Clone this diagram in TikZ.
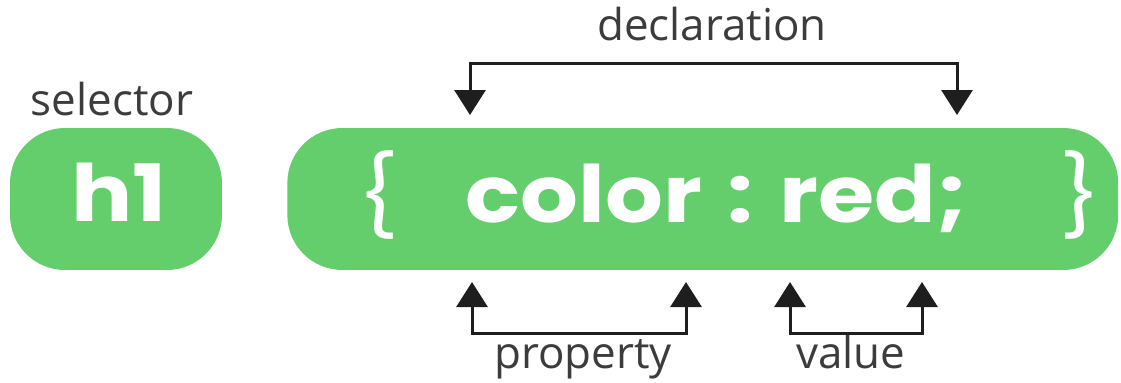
\documentclass[tikz,border=0pt]{standalone}
\usepackage{fontspec}
\setmainfont{Open Sans}
\newfontfamily\codefont{Poppins}[FakeStretch=1.15]
\usetikzlibrary{positioning,arrows.meta}
\definecolor{cssgreen}{HTML}{64CD6C}
\definecolor{labelgray}{HTML}{3C3C3C}
\definecolor{tipblack}{HTML}{1E1E1E}

\begin{document}
\begin{tikzpicture}[x=0.02cm, y=-0.02cm,
    pill/.style={fill=cssgreen, rounded corners=1.1cm, inner sep=0pt, minimum height=2.84cm},
    code/.style={text=white, font=\codefont\bfseries\fontsize{45}{50}\selectfont, inner sep=0pt, anchor=base},
    brace/.style={code, font=\codefont\mdseries\fontsize{45}{50}\selectfont},
    lbl/.style={text=labelgray, font=\fontsize{25}{30}\selectfont, inner sep=0pt, anchor=base},
    tips/.style={draw=tipblack, line width=0.06cm, {Triangle[width=0.62cm,length=0.5cm]}-{Triangle[width=0.62cm,length=0.5cm]}}]
  \useasboundingbox (0,0) rectangle (1121,382);
  % green boxes
  \node (sel) [pill, minimum width=4.24cm] at (116,199) {};
  \node (decl)[pill, minimum width=16.62cm, anchor=west] at (287,199) {};
  % code text
  \node (h1) [code] at (119,221) {h1};
  \node (lbr) [brace] at (378,224) {\{};
  \node (rule) [code, anchor=base west] at (465,222) {color\hspace{0.33em}:\hspace{0.33em}red;};
  \node (rbr) [brace] at (1080,224) {\}};
  % labels
  \node (sellbl) [lbl] at (112,115) {selector};
  \node (decllbl) [lbl] at (712,40) {declaration};
  \node (proplbl) [lbl] at (583,368) {property};
  \node (vallbl) [lbl] at (851,368) {value};
  % bracket ends
  \coordinate (d1) at (470,115); \coordinate (d2) at (957,115);
  \coordinate (p1) at (472,282); \coordinate (p2) at (686,282);
  \coordinate (v1) at (790,282); \coordinate (v2) at (922,282);
  \draw[tips] (d1) -- (470,63) -| (d2);
  \draw[tips] (p1) -- (472,333) -| (p2);
  \draw[tips] (v1) -- (790,333) -| (v2);
\end{tikzpicture}
\end{document}
